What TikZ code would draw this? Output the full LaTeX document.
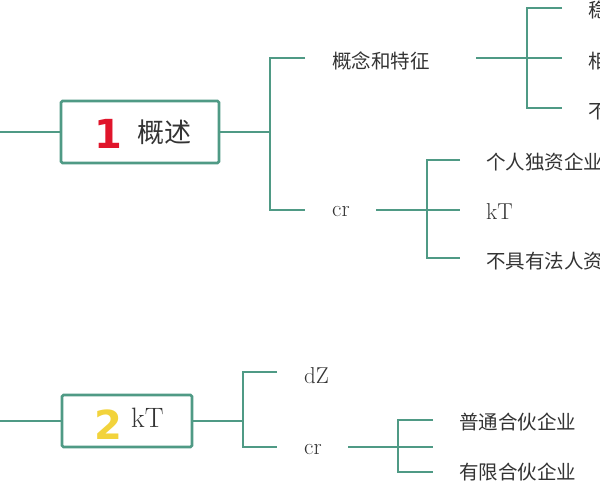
\documentclass[tikz,border=0pt]{standalone}
\usepackage{fontspec}
\newfontfamily\cjk{Noto Sans CJK SC}
\newfontfamily\numf{DejaVu Sans}
\definecolor{ln}{HTML}{4F9A85}
\definecolor{nred}{HTML}{E0152B}
\definecolor{nyel}{HTML}{F2D33C}
\begin{document}
\begin{tikzpicture}[x=1pt,y=-1pt,
  ed/.style={draw=ln,line width=2.8pt},
  tx/.style={anchor=west,inner sep=0pt,font=\fontsize{19.5}{19.5}\selectfont\cjk,text=black!80},
  lt/.style={anchor=west,inner sep=0pt,font=\fontsize{23}{23}\selectfont,text=black!80},
  box/.style={draw=ln,line width=2.8pt,rounded corners=1.5pt,minimum height=62pt,inner sep=0pt}]
\useasboundingbox (0,0) rectangle (600,480);
\begin{scope}
\clip (0,0) rectangle (600,480);
% main 1
\node[box,minimum width=158pt] (b1) at (140,132) {};
\node[inner sep=0pt,font=\fontsize{40}{40}\selectfont\numf\bfseries,text=nred] (n1) at (108,134) {1};
\node[inner sep=0pt,font=\fontsize{27}{27}\selectfont\cjk,text=black!80] (t1) at (164,132) {概述};
\coordinate (s1) at (0,132);
\draw[ed] (s1) -- (b1.west);
\coordinate (j1) at (270,132);
\coordinate (j1a) at (270,58);
\coordinate (j1b) at (270,210);
\coordinate (e1a) at (305,58);
\coordinate (e1b) at (305,210);
\draw[ed] (b1.east) -- (j1);
\draw[ed] (e1a) -- (j1a) -- (j1b) -- (e1b);
\node[tx] (c1) at (332,61) {概念和特征};
\node[lt] (c2) at (332,212) {cr};
% sub of c1
\coordinate (k1) at (476,58);
\coordinate (k1m) at (527,58);
\coordinate (k1a) at (527,8);
\coordinate (k1c) at (527,108);
\coordinate (k1ae) at (562,8);
\coordinate (k1be) at (562,58);
\coordinate (k1ce) at (562,108);
\draw[ed] (k1) -- (k1be);
\draw[ed] (k1ae) -- (k1a) -- (k1c) -- (k1ce);
\node[tx] (d1) at (588,10) {稳定};
\node[tx] (d2) at (588,61) {相关};
\node[tx] (d3) at (588,112) {不具};
% sub of c2
\coordinate (m1) at (376,210);
\coordinate (m1a) at (427,160);
\coordinate (m1c) at (427,258);
\coordinate (m1ae) at (460,160);
\coordinate (m1be) at (460,210);
\coordinate (m1ce) at (460,258);
\draw[ed] (m1) -- (m1be);
\draw[ed] (m1ae) -- (m1a) -- (m1c) -- (m1ce);
\node[tx] (f1) at (486,162) {个人独资企业};
\node[lt] (f2) at (486,212) {kT};
\node[tx] (f3) at (486,261) {不具有法人资格};
% main 2
\node[box,minimum width=130pt,minimum height=52pt] (b2) at (127,421) {};
\node[inner sep=0pt,font=\fontsize{40}{40}\selectfont\numf\bfseries,text=nyel] (n2) at (108,425) {2};
\node[lt,font=\fontsize{28}{28}\selectfont] (t2) at (131,418) {kT};
\coordinate (s2) at (0,421);
\draw[ed] (s2) -- (b2.west);
\coordinate (j2) at (243,421);
\coordinate (j2a) at (243,372);
\coordinate (j2b) at (243,447);
\coordinate (e2a) at (277,372);
\coordinate (e2b) at (277,447);
\draw[ed] (b2.east) -- (j2);
\draw[ed] (e2a) -- (j2a) -- (j2b) -- (e2b);
\node[lt] (g1) at (304,376) {dZ};
\node[lt] (g2) at (304,450) {cr};
\coordinate (p1) at (348,447);
\coordinate (p1a) at (398,420);
\coordinate (p1c) at (398,472);
\coordinate (p1ae) at (433,420);
\coordinate (p1be) at (433,447);
\coordinate (p1ce) at (433,472);
\draw[ed] (p1) -- (p1be);
\draw[ed] (p1ae) -- (p1a) -- (p1c) -- (p1ce);
\node[tx] (h1) at (459,422) {普通合伙企业};
\node[tx] (h2) at (459,472) {有限合伙企业};
\end{scope}
\end{tikzpicture}
\end{document}
